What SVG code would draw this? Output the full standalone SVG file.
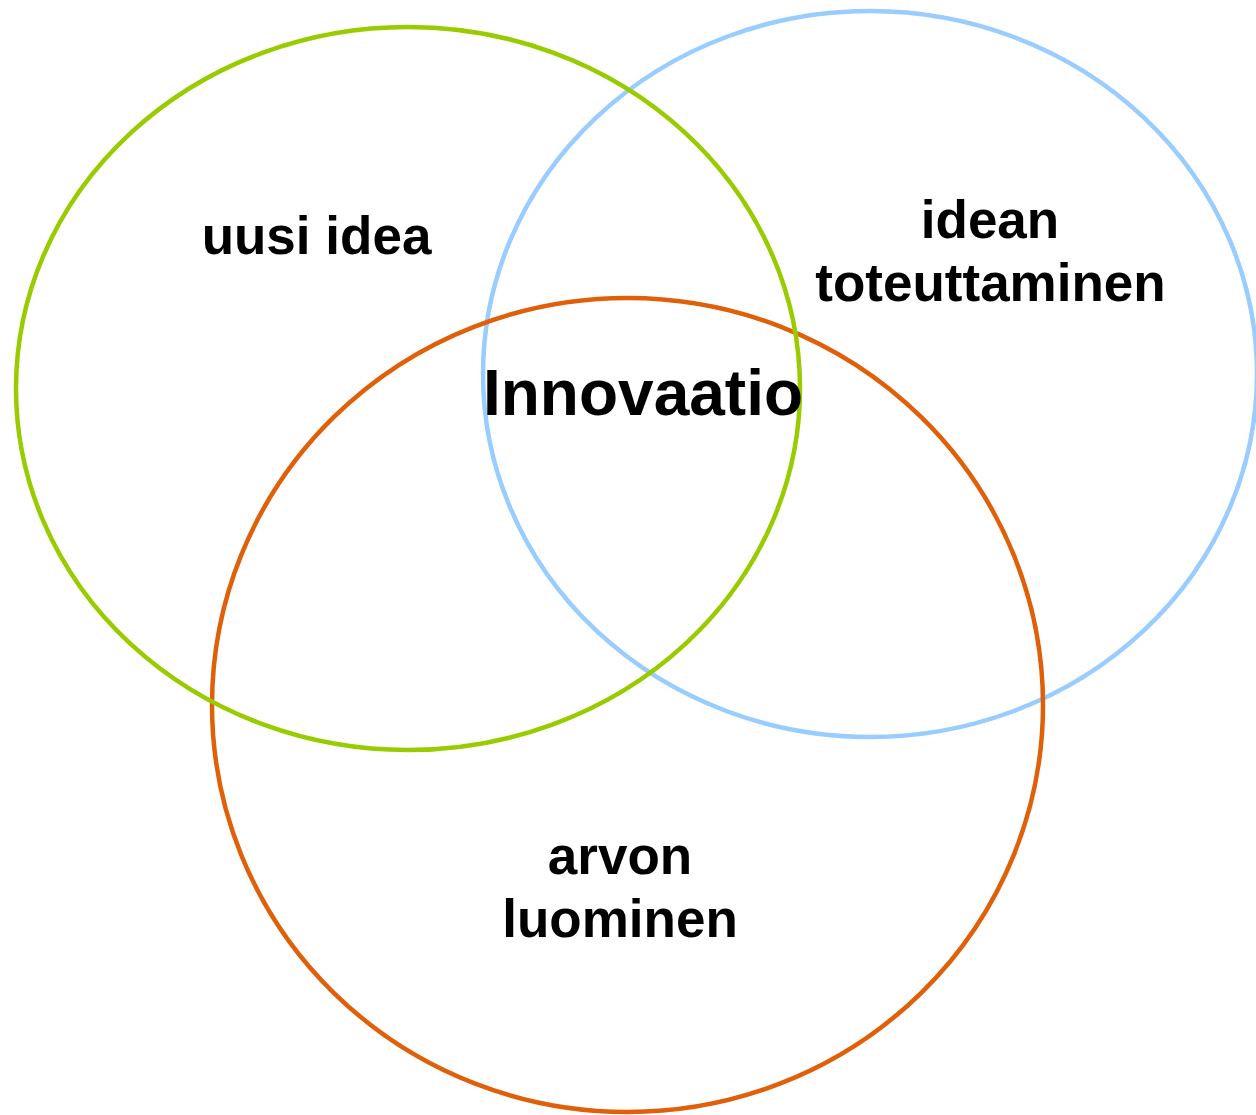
<svg xmlns="http://www.w3.org/2000/svg" width="1256" height="1115" viewBox="0 0 1256 1115">
<style>
.ring{fill:none;stroke-width:4.5}
.lbl{font-family:"Liberation Sans",Arial,sans-serif;font-weight:bold;fill:#000;text-anchor:middle;font-size:53px}
</style>
<rect width="1256" height="1115" fill="#fff"/>
<g id="blue"><ellipse class="ring" cx="870" cy="374" rx="387" ry="363" stroke="#99CCFF"/></g>
<g id="orange"><ellipse class="ring" cx="627.5" cy="705" rx="415.5" ry="407" stroke="#E0600A"/></g>
<g id="green"><ellipse class="ring" cx="408" cy="388.5" rx="392" ry="361.5" stroke="#99CC00"/></g>
<g id="labels">
<text class="lbl" x="316.5" y="254">uusi idea</text>
<text class="lbl" x="990" y="238">idean</text>
<text class="lbl" x="990.5" y="301">toteuttaminen</text>
<text class="lbl" x="643" y="415" style="font-size:64px">Innovaatio</text>
<text class="lbl" x="620" y="874">arvon</text>
<text class="lbl" x="620" y="937">luominen</text>
</g>
</svg>
